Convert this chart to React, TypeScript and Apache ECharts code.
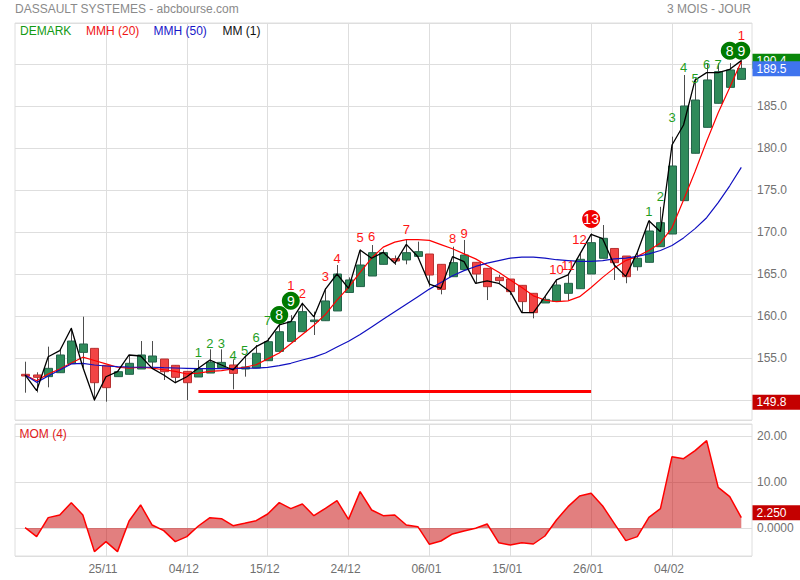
import React, { useEffect, useRef } from "react";
import * as echarts from "echarts";

const FONT = '"Liberation Sans", Arial, Helvetica, sans-serif';

const dates = [
  "14/11", "17/11", "18/11", "19/11", "20/11", "21/11", "24/11", "25/11", "26/11", "27/11", "28/11",
  "01/12", "02/12", "03/12", "04/12", "05/12", "08/12", "09/12", "10/12", "11/12", "12/12",
  "15/12", "16/12", "17/12", "18/12", "19/12", "22/12", "23/12", "24/12", "26/12",
  "29/12", "30/12", "31/12", "02/01", "05/01", "06/01", "07/01", "08/01", "09/01",
  "12/01", "13/01", "14/01", "15/01", "16/01", "19/01", "20/01", "21/01", "22/01", "23/01",
  "26/01", "27/01", "28/01", "29/01", "30/01", "02/02", "03/02", "04/02", "05/02", "06/02",
  "09/02", "10/02", "11/02", "12/02",
];

// Heikin-Ashi style candles as drawn
const haOpen = [
  153.06, 152.98, 152.78, 153.25, 154.33, 155.67, 156.15, 154.13, 152.78, 153.06,
  153.69, 154.52, 154.88, 154.13, 153.41, 152.74, 153.21, 153.85, 154.17, 153.69,
  153.81, 154.68, 155.79, 156.98, 158.13, 159.33, 159.44, 160.6, 162.8, 163.5,
  164.76, 166.15, 166.83, 166.67, 167.1, 167.38, 166.15, 164.68, 165.52, 166.39,
  165.67, 164.6, 164.4, 163.65, 162.7, 161.55, 161.75, 162.7, 163.25, 165.0,
  166.87, 168.04, 167.14, 165.87, 166.39, 168.25, 169.76, 173.73, 179.37, 182.46,
  185.32, 187.22, 188.17,
];
const haClose = [
  152.86, 152.7, 153.77, 155.36, 157.02, 156.67, 152.06, 151.47, 153.37, 154.37,
  155.36, 155.24, 153.37, 152.7, 152.06, 153.65, 154.52, 154.48, 153.17, 153.93,
  155.56, 156.94, 158.13, 159.33, 160.52, 159.52, 161.79, 165.0, 164.29, 166.07,
  167.54, 167.54, 166.55, 167.54, 167.66, 164.88, 163.17, 166.35, 167.26, 165.0,
  163.49, 164.21, 162.9, 161.71, 160.4, 161.98, 163.69, 163.89, 166.75, 168.73,
  169.25, 166.35, 164.68, 166.87, 170.12, 171.11, 177.86, 185.0, 185.71, 188.1,
  189.09, 189.29, 189.48,
];
const haLow = [
  150.87, 150.9, 151.51, 153.25, 154.33, 153.8, 149.9, 149.8, 152.78, 153.06,
  153.69, 153.7, 152.38, 152.0, 150.0, 152.74, 153.21, 153.85, 151.27, 152.78,
  153.81, 154.68, 155.79, 156.98, 158.13, 157.74, 159.44, 160.6, 162.8, 163.5,
  164.76, 166.15, 166.07, 166.15, 167.0, 163.5, 162.58, 164.68, 165.52, 163.85,
  161.9, 163.85, 162.5, 160.35, 159.72, 161.55, 161.75, 161.9, 163.25, 165.0,
  166.87, 164.29, 163.9, 165.4, 166.39, 168.25, 169.76, 173.73, 179.37, 182.46,
  185.32, 187.22, 188.17,
];
const haHigh = [
  154.56, 153.3, 156.35, 155.95, 158.6, 159.92, 156.15, 154.13, 153.5, 155.36,
  157.02, 157.02, 154.88, 154.13, 153.41, 154.76, 156.03, 156.03, 154.84, 155.3,
  156.55, 157.4, 159.13, 160.1, 161.6, 160.52, 163.3, 166.07, 164.6, 167.9,
  168.45, 167.9, 167.2, 169.13, 168.85, 167.38, 166.15, 168.25, 169.05, 166.39,
  165.67, 164.9, 164.4, 163.65, 162.7, 162.35, 164.35, 165.0, 167.4, 169.84,
  170.83, 168.04, 167.14, 167.7, 171.4, 173.0, 181.35, 188.69, 188.3, 190.08,
  190.08, 190.1, 190.5,
];

// MM (1): closing prices
const mm1 = [
  152.98, 151.11, 155.15, 155.87, 158.54, 153.9, 150.0, 152.77, 153.37, 155.36,
  155.24, 153.77, 152.98, 152.06, 152.77, 153.77, 154.76, 154.17, 153.57, 155.08,
  156.35, 157.06, 158.93, 159.33, 161.5, 159.9, 163.2, 165.0, 163.29, 167.86,
  166.87, 167.58, 166.27, 168.53, 167.06, 163.8, 163.29, 167.06, 166.47, 163.89,
  164.17, 163.89, 162.9, 160.4, 160.4, 162.3, 164.29, 164.9, 167.3, 169.72,
  169.2, 166.07, 164.72, 167.6, 171.35, 170.04, 180.36, 182.74, 188.1, 188.97,
  188.97, 189.37, 190.4,
];

const mmh20 = [
  152.98, 152.3, 153.1, 153.7, 154.4, 155.1, 154.7, 154.3, 153.9, 153.8,
  153.9, 153.8, 153.6, 153.4, 153.1, 153.2, 153.4, 153.5, 153.7, 153.9,
  154.2, 154.9, 155.6, 156.7, 157.8, 158.9, 160.2, 161.9, 163.4, 165.2,
  166.9, 168.2, 168.8, 169.1, 169.1, 169.0, 168.5, 168.0, 167.4, 166.8,
  166.0, 165.2, 164.3, 163.4, 162.4, 161.9, 161.7, 161.8, 162.3, 163.4,
  164.6, 165.7, 166.6, 167.1, 167.8, 168.7, 170.5, 173.8, 177.2, 180.8,
  184.2, 187.2, 190.3,
];

const mmh50 = [
  152.98, 152.1, 152.86, 153.57, 154.29, 154.37, 154.17, 154.05, 153.97, 153.93,
  153.9, 153.9, 153.85, 153.81, 153.77, 153.73, 153.73, 153.73, 153.73, 153.78,
  153.8, 153.89, 154.09, 154.37, 154.76, 155.1, 155.6, 156.3, 157.0, 157.8,
  158.7, 159.6, 160.5, 161.4, 162.3, 163.2, 164.0, 164.8, 165.4, 165.9,
  166.3, 166.6, 166.9, 167.0, 167.0, 166.9, 166.7, 166.6, 166.5, 166.5,
  166.6, 166.8, 166.9, 167.1, 167.4, 167.8, 168.4, 169.3, 170.4, 171.7,
  173.5, 175.5, 177.7,
];

const mom4 = [
  0.07, -1.88, 2.25, 2.83, 5.51, 2.83, -5.14, -2.97, -5.14, 1.52,
  5.0, 0.65, -0.58, -2.97, -1.88, 0.43, 2.25, 2.03, 0.51, 1.01,
  1.59, 3.04, 5.51, 4.2, 5.22, 2.68, 4.28, 5.94, 1.88, 7.9,
  3.91, 2.68, 2.83, 0.65, 0.29, -3.55, -2.83, -1.3, -0.65, -0.07,
  0.87, -3.19, -3.7, -3.19, -3.48, -1.74, 1.74, 4.64, 6.96, 7.54,
  4.78, 1.01, -2.75, -1.88, 2.32, 4.2, 15.51, 15.07, 16.81, 18.99,
  8.84, 6.81, 2.25,
];

// DeMark counts: [candle index, price level of the label, text]
const demarkGreen: [number, number, string][] = [
  [15, 155.63, "1"], [16, 156.67, "2"], [17, 156.67, "3"], [18, 155.24, "4"],
  [19, 155.95, "5"], [20, 157.42, "6"], [21, 159.52, "7"],
  [54, 172.42, "1"], [55, 174.2, "2"], [56, 183.61, "3"], [57, 189.56, "4"],
  [58, 188.3, "5"], [59, 189.96, "6"], [60, 189.96, "7"],
];
const demarkGreenCircled: [number, number, string][] = [
  [22, 160.12, "8"], [23, 161.82, "9"], [61, 191.58, "8"], [62, 191.58, "9"],
];
const demarkRed: [number, number, string][] = [
  [23, 163.61, "1"], [24, 162.62, "2"], [26, 164.76, "3"], [27, 166.87, "4"],
  [29, 169.37, "5"], [30, 169.44, "6"], [33, 170.24, "7"], [37, 169.17, "8"],
  [38, 169.84, "9"], [46, 165.48, "10"], [47, 166.07, "11"], [48, 169.05, "12"],
  [62, 193.45, "1"],
];
const demarkRedCircled: [number, number, string][] = [[49, 171.55, "13"]];

// TDST support line
const tdstLevel = 151.07;
const tdstFrom = 15;
const tdstTo = 49;

const priceTags = [
  { value: 190.4, text: "190.4", color: "#0a870a" },
  { value: 189.5, text: "189.5", color: "#3f74ee" },
  { value: 149.8, text: "149.8", color: "#c40000" },
];
const momTag = { value: 2.25, text: "2.250", color: "#c40000" };
// axis levels hidden under the price tags
const hiddenPriceLabels = [150, 190];

const PRICE_MIN = 147.62;
const PRICE_MAX = 194.88;
const MOM_MIN = -6.09;
const MOM_MAX = 22.61;

export default function App() {
  const ref = useRef<HTMLDivElement>(null);

  useEffect(() => {
    const el = ref.current;
    if (!el) return;
    const chart = echarts.init(el, null, { renderer: "svg" });

    const every7 = (index: number) => index > 0 && index % 7 === 0;
    const GRID_LINE = "#dedede";
    const LABEL = "#707070";

    const MAIN_TOP = 23;
    const MAIN_H = 397;
    const MOM_TOP = 424;
    const MOM_H = 132;
    const DATA_LEFT = 25.1;
    const DATA_RIGHT = 800 - 741.3;

    const catAxis = (gridIndex: number, labels: boolean) => ({
      gridIndex,
      type: "category",
      data: dates,
      boundaryGap: false,
      axisLine: { show: false },
      axisTick: { show: false },
      axisLabel: {
        show: labels,
        interval: every7,
        color: LABEL,
        fontSize: 12,
        fontFamily: FONT,
        margin: 7,
        padding: [0, 6, 0, 0],
      },
      splitLine: { show: true, interval: every7, lineStyle: { color: GRID_LINE, width: 1 } },
    });

    const candleData = dates.map((_, i) => [i, haOpen[i], haClose[i], haLow[i], haHigh[i]]);

    const textScatter = (data: [number, number, string][], color: string) => ({
      type: "scatter",
      xAxisIndex: 1,
      yAxisIndex: 1,
      symbol: "circle",
      symbolSize: 1,
      itemStyle: { color: "rgba(0,0,0,0)", opacity: 1 },
      z: 6,
      silent: true,
      data: data.map((d) => [d[0], d[1], d[2]]),
      label: {
        show: true,
        position: "inside",
        color,
        opacity: 1,
        fontSize: 13,
        fontFamily: FONT,
        formatter: (p: any) => p.value[2],
      },
    });
    const circleScatter = (data: [number, number, string][], color: string) => ({
      type: "scatter",
      xAxisIndex: 1,
      yAxisIndex: 1,
      symbol: "circle",
      symbolSize: 18,
      itemStyle: { color, opacity: 1 },
      z: 7,
      silent: true,
      data: data.map((d) => [d[0], d[1], d[2]]),
      label: {
        show: true,
        position: "inside",
        color: "#ffffff",
        opacity: 1,
        fontSize: 14,
        fontFamily: FONT,
        formatter: (p: any) => p.value[2],
      },
    });

    const option: any = {
      animation: false,
      backgroundColor: "#ffffff",
      grid: [
        { left: 15, right: 48, top: MAIN_TOP, height: MAIN_H, show: true, borderColor: GRID_LINE, borderWidth: 1 },
        { left: DATA_LEFT, right: DATA_RIGHT, top: MAIN_TOP, height: MAIN_H },
        { left: 15, right: 48, top: MOM_TOP, height: MOM_H, show: true, borderColor: GRID_LINE, borderWidth: 1 },
        { left: DATA_LEFT, right: DATA_RIGHT, top: MOM_TOP, height: MOM_H },
      ],
      xAxis: [
        { gridIndex: 0, type: "value", min: 0, max: 1, show: false },
        catAxis(1, false),
        { gridIndex: 2, type: "value", min: 0, max: 1, show: false },
        catAxis(3, true),
      ],
      yAxis: [
        {
          gridIndex: 0,
          type: "value",
          position: "right",
          min: PRICE_MIN,
          max: PRICE_MAX,
          minInterval: 5,
          maxInterval: 5,
          splitNumber: 9,
          axisLine: { show: false },
          axisTick: { show: false },
          axisLabel: {
            color: LABEL,
            fontSize: 12,
            fontFamily: FONT,
            margin: 5,
            showMinLabel: false,
            showMaxLabel: false,
            padding: [0, 0, 5, 0],
            formatter: (v: number) =>
              hiddenPriceLabels.some((h) => Math.abs(h - v) < 1e-6) ? "" : v.toFixed(1),
          },
          splitLine: { show: true, lineStyle: { color: GRID_LINE } },
        },
        { gridIndex: 1, type: "value", min: PRICE_MIN, max: PRICE_MAX, show: false, splitLine: { show: false } },
        {
          gridIndex: 2,
          type: "value",
          position: "right",
          min: MOM_MIN,
          max: MOM_MAX,
          minInterval: 10,
          maxInterval: 10,
          splitNumber: 3,
          axisLine: { show: false },
          axisTick: { show: false },
          axisLabel: {
            color: LABEL,
            fontSize: 12,
            fontFamily: FONT,
            margin: 5,
            showMinLabel: false,
            showMaxLabel: false,
            padding: [0, 0, 5, 0],
            formatter: (v: number) => (Math.abs(v) < 1e-9 ? "0.0000" : v.toFixed(2)),
          },
          splitLine: { show: true, lineStyle: { color: GRID_LINE } },
        },
        { gridIndex: 3, type: "value", min: MOM_MIN, max: MOM_MAX, show: false, splitLine: { show: false } },
      ],
      series: [
        {
          type: "custom",
          xAxisIndex: 1,
          yAxisIndex: 1,
          z: 2,
          silent: true,
          data: candleData,
          encode: { x: 0, y: [1, 2, 3, 4] },
          renderItem: (_params: any, api: any) => {
            const i = api.value(0);
            const o = api.value(1);
            const c = api.value(2);
            const l = api.value(3);
            const h = api.value(4);
            const pO = api.coord([i, o]);
            const pC = api.coord([i, c]);
            const pL = api.coord([i, l]);
            const pH = api.coord([i, h]);
            const up = c >= o;
            const w = 8;
            const cx = Math.round(pO[0]) + 0.5;
            const top = Math.min(pO[1], pC[1]);
            const hgt = Math.max(1, Math.abs(pO[1] - pC[1]));
            return {
              type: "group",
              children: [
                {
                  type: "line",
                  shape: { x1: cx, y1: pH[1], x2: cx, y2: pL[1] },
                  style: { stroke: "#4d4d4d", lineWidth: 1 },
                },
                {
                  type: "rect",
                  shape: { x: cx - w / 2, y: top, width: w, height: hgt },
                  style: {
                    fill: up ? "#2f8a5a" : "#f24444",
                    stroke: up ? "#24624a" : "#b83030",
                    lineWidth: 1,
                  },
                },
              ],
            };
          },
        },
        {
          type: "line",
          name: "MMH (20)",
          xAxisIndex: 1,
          yAxisIndex: 1,
          data: mmh20,
          symbol: "none",
          z: 3,
          lineStyle: { color: "#ff0000", width: 1.2 },
        },
        {
          type: "line",
          name: "MMH (50)",
          xAxisIndex: 1,
          yAxisIndex: 1,
          data: mmh50,
          symbol: "none",
          z: 3,
          lineStyle: { color: "#1010c0", width: 1.2 },
        },
        {
          type: "line",
          name: "MM (1)",
          xAxisIndex: 1,
          yAxisIndex: 1,
          data: mm1,
          symbol: "none",
          z: 4,
          lineStyle: { color: "#000000", width: 1.3 },
          markLine: {
            silent: true,
            symbol: ["none", "none"],
            label: { show: false },
            lineStyle: { color: "#ff0000", width: 3, type: "solid", opacity: 1 },
            data: [[{ coord: [tdstFrom, tdstLevel] }, { coord: [tdstTo, tdstLevel] }]],
          },
        },
        textScatter(demarkGreen, "#1f9e1f"),
        textScatter(demarkRed, "#ff1414"),
        circleScatter(demarkGreenCircled, "#007a00"),
        circleScatter(demarkRedCircled, "#f00000"),
        {
          type: "line",
          name: "MOM (4)",
          xAxisIndex: 3,
          yAxisIndex: 3,
          data: mom4,
          symbol: "none",
          z: 3,
          lineStyle: { color: "#ff0000", width: 1.5 },
          areaStyle: { color: "rgba(200,10,10,0.52)", opacity: 1 },
        },
      ],
    };

    chart.setOption(option);

    const py = (v: number) => chart.convertToPixel({ yAxisIndex: 0 }, v) as unknown as number;
    const my = (v: number) => chart.convertToPixel({ yAxisIndex: 2 }, v) as unknown as number;

    const txt = (x: number, y: number, text: string, fill: string, align = "left", z = 10) => ({
      type: "text",
      x,
      y,
      z,
      silent: true,
      style: { text, fill, fontSize: 12, fontFamily: FONT, align, verticalAlign: "middle" },
    });

    const tag = (y: number, text: string, color: string, z: number) => [
      { type: "rect", z, silent: true, shape: { x: 752.5, y: y - 7.5, width: 48, height: 15 }, style: { fill: color } },
      {
        type: "text",
        z: z + 1,
        silent: true,
        x: 756.5,
        y,
        style: { text, fill: "#ffffff", fontSize: 12, fontFamily: FONT, align: "left", verticalAlign: "middle" },
      },
    ];

    const elements: any[] = [
      txt(15, 9, "DASSAULT SYSTEMES - abcbourse.com", "#8a8a8a"),
      txt(751, 9, "3 MOIS - JOUR", "#8a8a8a", "right"),
      txt(20, 31, "DEMARK", "#139a13"),
      txt(86, 31, "MMH (20)", "#f01414"),
      txt(153.5, 31, "MMH (50)", "#1818c8"),
      txt(222.5, 31, "MM (1)", "#111111"),
      txt(19.5, 433.5, "MOM (4)", "#e02020"),
    ];
    let z = 20;
    priceTags.forEach((t) => {
      elements.push(...tag(py(t.value) + 0.5, t.text, t.color, z));
      z += 2;
    });
    elements.push(...tag(my(momTag.value) - 5, momTag.text, momTag.color, z));

    chart.setOption({ graphic: { elements } });

    return () => {
      chart.dispose();
    };
  }, []);

  return (
    <div
      ref={ref}
      style={{ position: "fixed", left: 0, top: 0, width: 800, height: 580, background: "#fff" }}
    />
  );
}
